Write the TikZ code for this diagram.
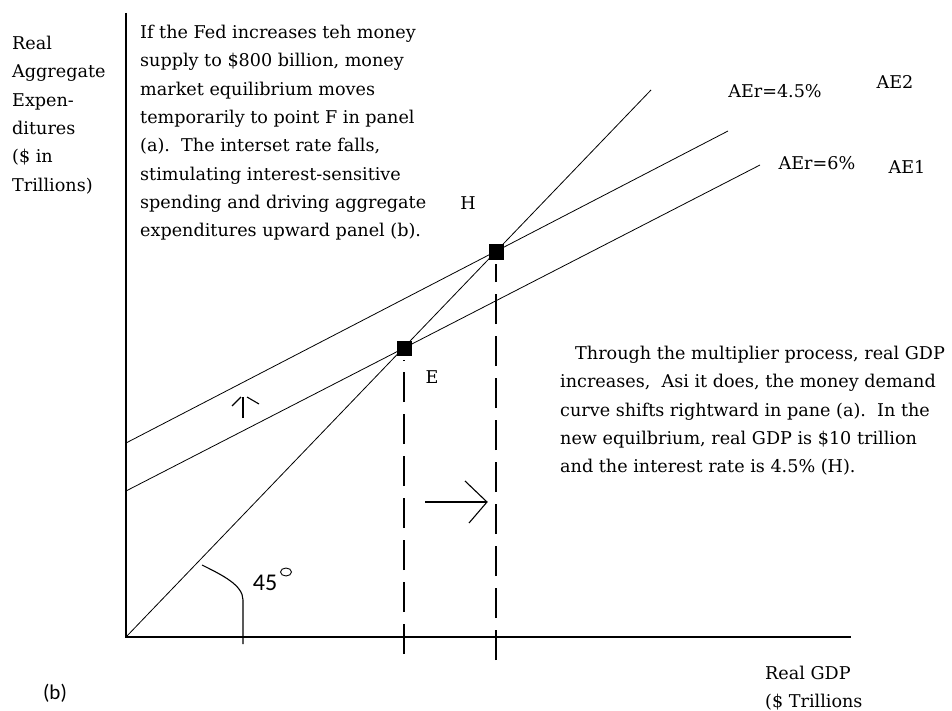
\documentclass[tikz,border=0pt]{standalone}
\usepackage{fontspec}
\setmainfont{DejaVu Serif}
\newfontfamily\labsans{Carlito}
\begin{document}
\begin{tikzpicture}[x=1pt,y=-1pt,
  axisline/.style={line width=1.4pt},
  curveline/.style={line width=0.8pt},
  guide/.style={line width=1.3pt, dash pattern=on 30pt off 12pt},
  eqpt/.style={fill=black, minimum size=15pt, inner sep=0pt},
  txt/.style={font=\fontsize{17.6}{28.3}\selectfont, align=left, inner sep=0pt},
  lbl/.style={font=\fontsize{17.6}{20}\selectfont, inner sep=0pt},
  sanslbl/.style={font=\labsans\fontsize{21}{24}\selectfont, inner sep=0pt}]
\useasboundingbox (0,0) rectangle (952,711);

% coordinates
\coordinate (O) at (126,637);
\coordinate (Ytop) at (126,13);
\coordinate (Xend) at (851,637);
\coordinate (L45) at (651,90);
\coordinate (A2s) at (126,443);
\coordinate (A2e) at (728,131);
\coordinate (A1s) at (126,491);
\coordinate (A1e) at (760,165);
\coordinate (Eb) at (404,654);
\coordinate (Hb) at (496,660);

% axes
\draw[axisline] (Ytop) -- (O) -- (Xend);

% lines
\draw[curveline] (O) -- (L45);
\draw[curveline] (A2s) -- (A2e);
\draw[curveline] (A1s) -- (A1e);

% equilibrium points
\node[eqpt] (E) at (404,348) {};
\node[eqpt] (H) at (496,252) {};

% dashed guides
\draw[guide] (Eb) -- ([yshift=-4pt]E.south);
\draw[guide] (Hb) -- ([yshift=-4pt]H.south);

% 45 degree marker
\draw[line width=1.1pt] (202,565) .. controls (222,575) and (243,585) .. (243,600) -- (243,644);
\node[sanslbl, font=\labsans\fontsize{24}{26}\selectfont] (deg45) at (265,583) {45};
\draw[line width=0.9pt] (286,572) ellipse (5.5pt and 4pt);

% shift arrows
\draw[line width=1.1pt] (243,418) -- (243,397);
\draw[line width=1.1pt] (232,406) -- (241,397);
\draw[line width=1.1pt] (247,397) -- (259,404);
\draw[line width=1.1pt] (425,502) -- (487,502);
\draw[line width=1.1pt] (465,481) -- (487,502) -- (469,523);

% point labels
\node[lbl] (Hl) at (468,203) {H};
\node[lbl] (El) at (432,377) {E};

% curve labels
\node[lbl] (ae45) at (775,91) {AEr=4.5\%};
\node[lbl] (ae2) at (895,82) {AE2};
\node[lbl] (ae6) at (817,163) {AEr=6\%};
\node[lbl] (ae1) at (907,167) {AE1};

% axis labels
\node[txt, anchor=north west] (ylab) at (12,36) {Real\\Aggregate\\Expen-\\ditures\\(\$ in\\Trillions)};
\node[txt, anchor=north west] (xlab) at (765,666) {Real GDP\\(\$ Trillions};
\node[sanslbl] (panel) at (55,693) {(b)};

% explanatory text
\node[txt, anchor=north west] (fedtext) at (140,25) {If the Fed increases teh money\\supply to \$800 billion, money\\market equilibrium moves\\temporarily to point F in panel\\(a).\ \ The interset rate falls,\\stimulating interest-sensitive\\spending and driving aggregate\\expenditures upward panel (b).};
\node[txt, anchor=north west] (multtext) at (560,346) {\hspace*{15pt}Through the multiplier process, real GDP\\increases,\ \ Asi it does, the money demand\\curve shifts rightward in pane (a).\ \ In the\\new equilbrium, real GDP is \$10 trillion\\and the interest rate is 4.5\% (H).};
\end{tikzpicture}
\end{document}
